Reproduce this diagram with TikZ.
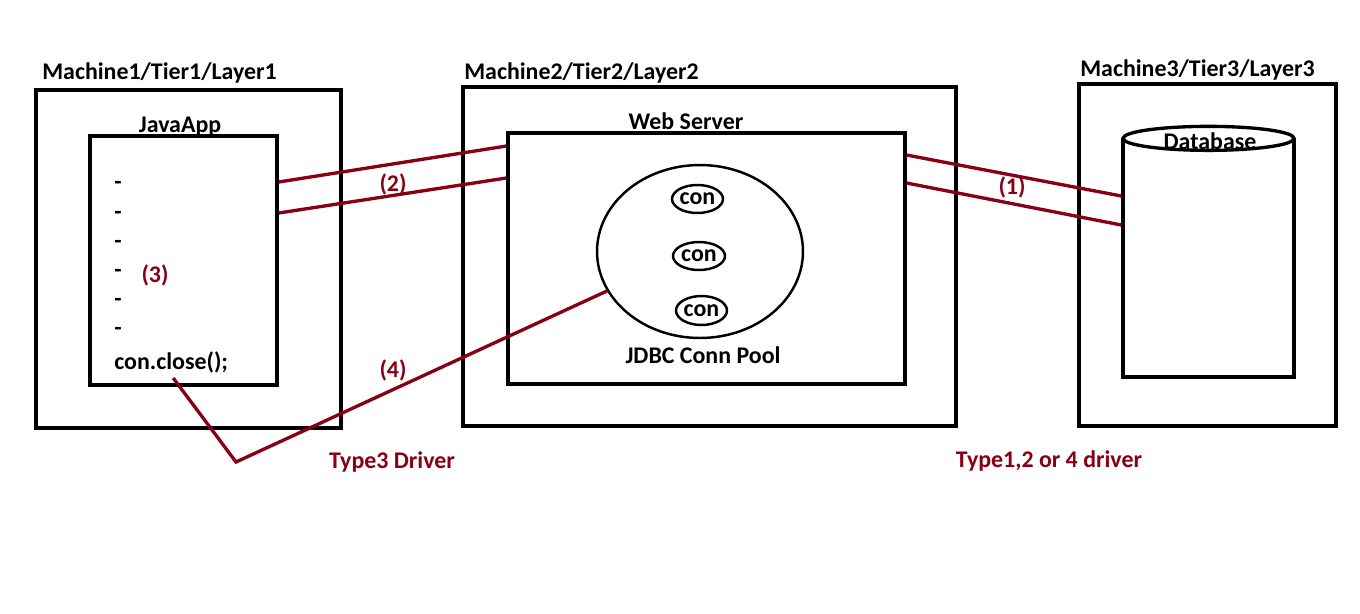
\documentclass[tikz,border=0pt]{standalone}
\usepackage{fontspec}
\setmainfont{Carlito}
\usetikzlibrary{shapes.geometric}
\definecolor{dkred}{RGB}{136,0,21}
\tikzset{
  box/.style={draw,black,line width=1.9pt,inner sep=0pt},
  wire/.style={line width=1.9pt,dkred},
  txt/.style={font=\bfseries\fontsize{13.6}{15}\selectfont,inner sep=0pt},
  redtxt/.style={txt,dkred}
}
\begin{document}
\begin{tikzpicture}[x=0.02cm,y=-0.02cm]
  \useasboundingbox (0,0) rectangle (1360,613);
  % machine 1
  \node[box,minimum width=6.1cm,minimum height=6.76cm] at (188.5,259) (m1) {};
  \node[txt,anchor=west] at (42,73) (m1lbl) {Machine1/Tier1/Layer1};
  \node[box,minimum width=3.74cm,minimum height=4.98cm] at (183.5,260.5) (app) {};
  \node[txt] at (180,127) (applbl) {JavaApp};
  \foreach \y [count=\i] in {185,215,244,273,302,331}
    \node[txt] at (118,\y) (d\i) {-};
  \node[redtxt] at (155,275) (n3) {(3)};
  \node[txt,anchor=west] at (114,362) (close) {con.close();};
  % machine 2
  \node[box,minimum width=9.86cm,minimum height=6.78cm] at (709.5,256.5) (m2) {};
  \node[txt,anchor=west] at (464,73) (m2lbl) {Machine2/Tier2/Layer2};
  \node[box,minimum width=7.94cm,minimum height=5.02cm] at (706.5,258.5) (web) {};
  \node[txt] at (686,121) (weblbl) {Web Server};
  \node[box,ellipse,line width=1.4pt,minimum width=4.12cm,minimum height=3.46cm] at (700,251.5) (pool) {};
  \node[box,ellipse,line width=1.4pt,minimum width=1.02cm,minimum height=0.56cm,txt] at (697.5,199) (c1) {con};
  \node[box,ellipse,line width=1.4pt,minimum width=1.04cm,minimum height=0.56cm,txt] at (699,256) (c2) {con};
  \node[box,ellipse,line width=1.4pt,minimum width=1.02cm,minimum height=0.58cm,txt] at (701.5,310.5) (c3) {con};
  \node[txt] at (703,355) (poollbl) {JDBC Conn Pool};
  % machine 3
  \node[box,minimum width=5.14cm,minimum height=6.84cm] at (1207.5,255) (m3) {};
  \node[txt,anchor=west] at (1080,70) (m3lbl) {Machine3/Tier3/Layer3};
  \node[box,minimum width=3.42cm,minimum height=4.74cm] at (1208.5,258.5) (db) {};
  \draw[line width=1.9pt,fill=white] (db.north) ellipse (85.5 and 12);
  \node[txt] at (1210,141) (dblbl) {Database};
  % connections
  \draw[wire] ([yshift=1.57cm]app.east) -- ([yshift=2.25cm]web.west);
  \draw[wire] ([yshift=0.95cm]app.east) -- ([yshift=1.61cm]web.west);
  \node[redtxt] at (393,184) (n2) {(2)};
  \draw[wire] ([yshift=2.07cm]web.east) -- ([yshift=1.25cm]db.west);
  \draw[wire] ([yshift=1.51cm]web.east) -- ([yshift=0.67cm]db.west);
  \node[redtxt] at (1012,187) (n1) {(1)};
  \coordinate (bend) at (236,462);
  \draw[wire] ([xshift=0.04cm,yshift=-0.1cm]close.south) -- (bend) -- (pool.203);
  \node[redtxt] at (393,370) (n4) {(4)};
  \node[redtxt] at (392,462) (t3) {Type3 Driver};
  \node[redtxt] at (1049,461) (t124) {Type1,2 or 4 driver};
\end{tikzpicture}
\end{document}
